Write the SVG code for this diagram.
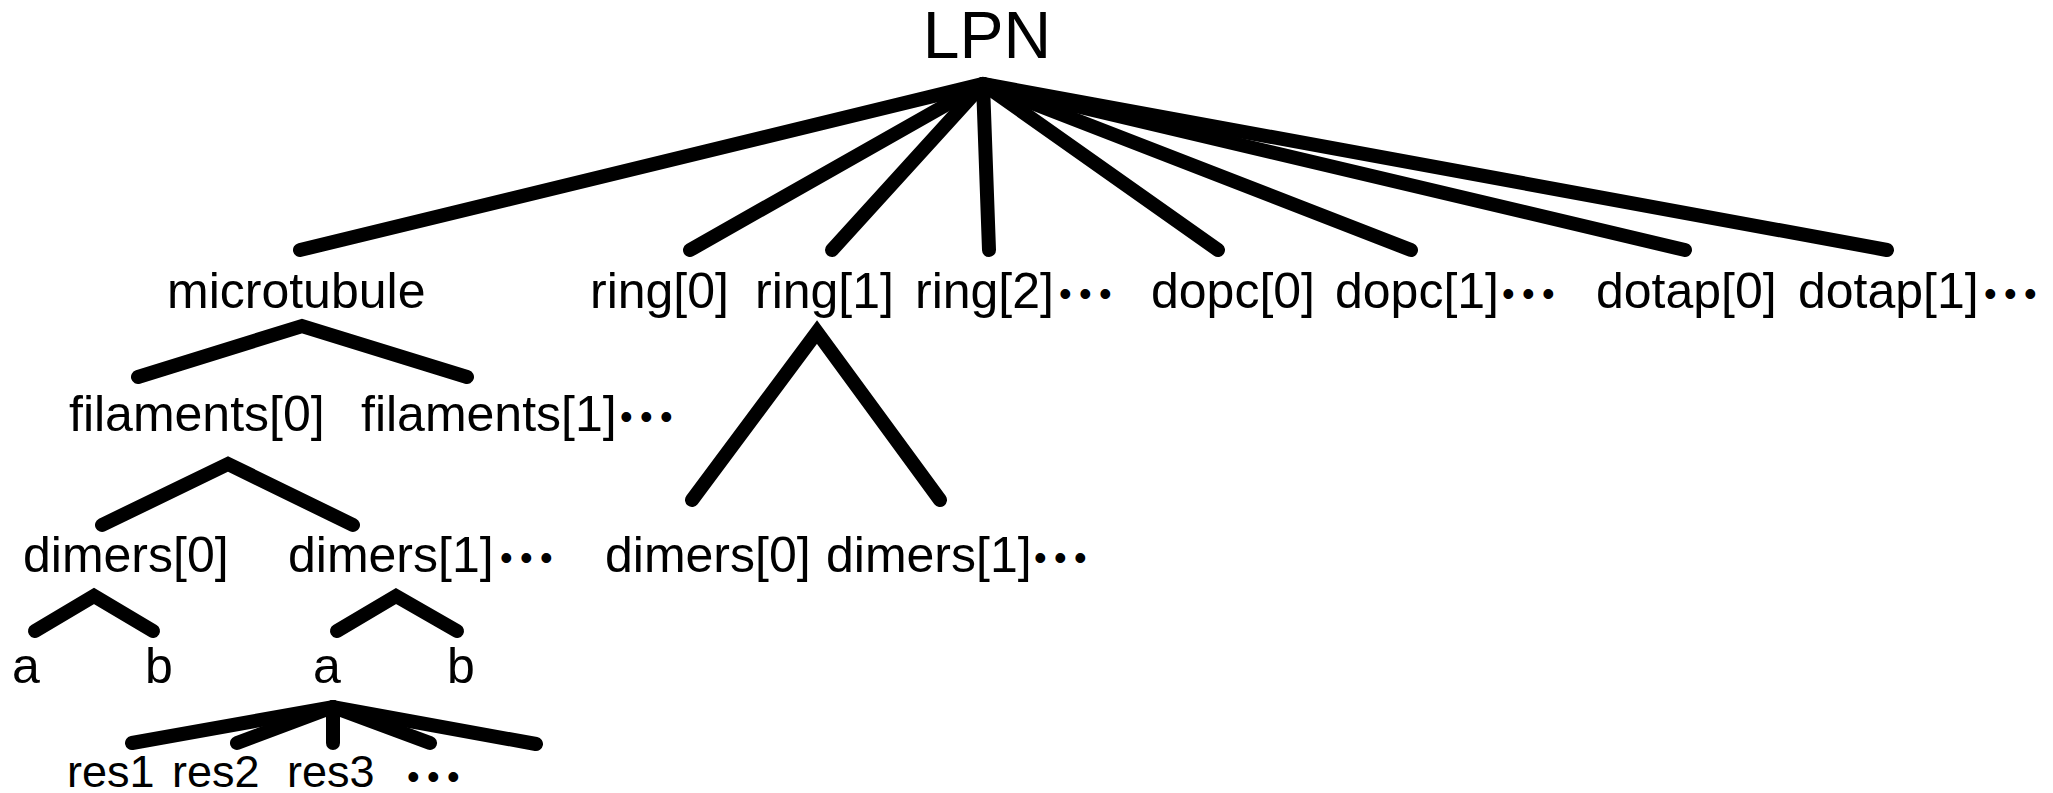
<svg xmlns="http://www.w3.org/2000/svg" width="2053" height="793" viewBox="0 0 2053 793">
  <style>
    .edge { fill: none; stroke: #000; stroke-width: 14; stroke-linecap: round; stroke-linejoin: miter; stroke-miterlimit: 10; }
    .lbl { font-family: "Liberation Sans", Arial, sans-serif; fill: #000; }
    .root { font-size: 66px; }
    .n { font-size: 50px; }
    .s { font-size: 45px; }
    .dots { font-size: 36px; letter-spacing: 7.4px; }
  </style>
  <rect width="2053" height="793" fill="#fff"/>

  <g id="connectors">
    <!-- LPN fan -->
    <path class="edge" d="M300,250 L983,84 L1887,250"/>
    <path class="edge" d="M983,84 L690,250"/>
    <path class="edge" d="M983,84 L832,250"/>
    <path class="edge" d="M983,84 L989,250"/>
    <path class="edge" d="M983,84 L1218,250"/>
    <path class="edge" d="M983,84 L1411,250"/>
    <path class="edge" d="M983,84 L1685,250"/>
    <!-- microtubule -> filaments -->
    <path class="edge" d="M138,377 L302,326 L467,377"/>
    <!-- filaments[0] -> dimers -->
    <path class="edge" d="M102,525 L228,464 L353,525"/>
    <!-- ring[1] -> dimers -->
    <path class="edge" d="M692,500 L817,332 L940,500"/>
    <!-- dimers -> a / b -->
    <path class="edge" d="M35,631 L94,596 L153,631"/>
    <path class="edge" d="M337,631 L396,596 L457,631"/>
    <!-- a -> residues -->
    <path class="edge" d="M132,743 L333,707 L536,744"/>
    <path class="edge" d="M333,707 L237,743"/>
    <path class="edge" d="M333,707 L333,743"/>
    <path class="edge" d="M333,707 L430,743"/>
  </g>

  <g id="node-lpn"><text class="lbl root" x="987" y="58" text-anchor="middle">LPN</text></g>

  <g id="node-microtubule"><text class="lbl n" x="167" y="308">microtubule</text></g>
  <g id="node-ring0"><text class="lbl n" x="590" y="308">ring[0]</text></g>
  <g id="node-ring1"><text class="lbl n" x="755" y="308">ring[1]</text></g>
  <g id="node-ring2"><text class="lbl n" x="915" y="308">ring[2]<tspan class="dots" x="1059" dy="-2">•••</tspan></text></g>
  <g id="node-dopc0"><text class="lbl n" x="1151" y="308">dopc[0]</text></g>
  <g id="node-dopc1"><text class="lbl n" x="1335" y="308">dopc[1]<tspan class="dots" x="1502" dy="-2">•••</tspan></text></g>
  <g id="node-dotap0"><text class="lbl n" x="1596" y="308">dotap[0]</text></g>
  <g id="node-dotap1"><text class="lbl n" x="1798" y="308">dotap[1]<tspan class="dots" x="1984" dy="-2">•••</tspan></text></g>

  <g id="node-filaments0"><text class="lbl n" x="69" y="431">filaments[0]</text></g>
  <g id="node-filaments1"><text class="lbl n" x="361" y="431">filaments[1]<tspan class="dots" x="620" dy="-2">•••</tspan></text></g>

  <g id="node-mt-dimers0"><text class="lbl n" x="23" y="572">dimers[0]</text></g>
  <g id="node-mt-dimers1"><text class="lbl n" x="288" y="572">dimers[1]<tspan class="dots" x="500" dy="-2">•••</tspan></text></g>
  <g id="node-ring-dimers0"><text class="lbl n" x="605" y="572">dimers[0]</text></g>
  <g id="node-ring-dimers1"><text class="lbl n" x="826" y="572">dimers[1]<tspan class="dots" x="1034" dy="-2">•••</tspan></text></g>

  <g id="node-d0-a"><text class="lbl n" x="12" y="683">a</text></g>
  <g id="node-d0-b"><text class="lbl n" x="145" y="683">b</text></g>
  <g id="node-d1-a"><text class="lbl n" x="313" y="683">a</text></g>
  <g id="node-d1-b"><text class="lbl n" x="447" y="683">b</text></g>

  <g id="node-res1"><text class="lbl s" x="67" y="787">res1</text></g>
  <g id="node-res2"><text class="lbl s" x="172" y="787">res2</text></g>
  <g id="node-res3"><text class="lbl s" x="287" y="787">res3</text></g>
  <g id="node-res-more"><text class="lbl dots" x="407" y="789">•••</text></g>
</svg>
